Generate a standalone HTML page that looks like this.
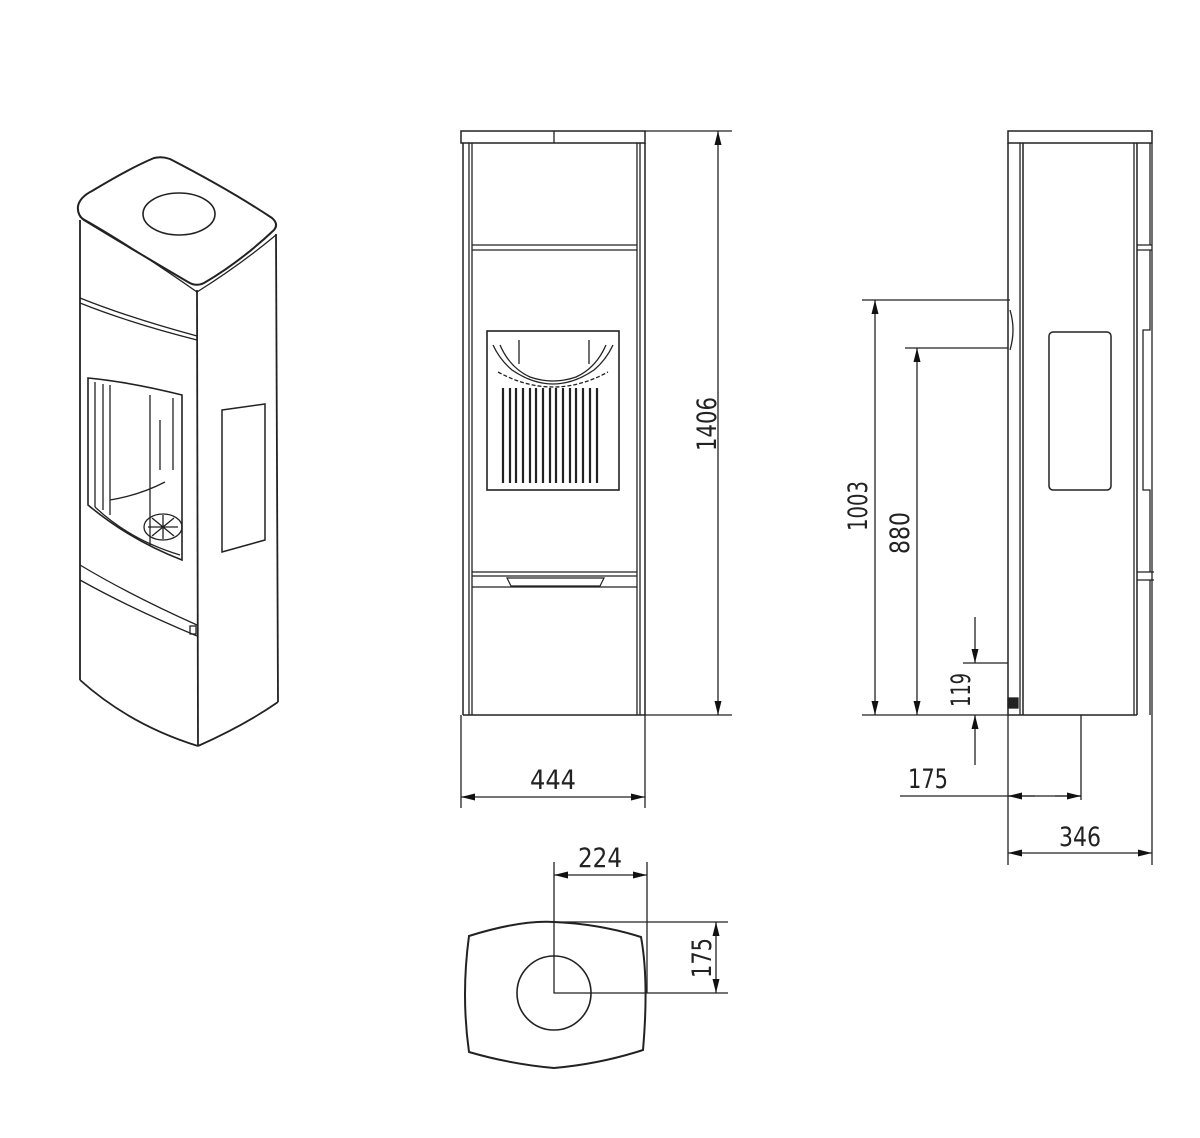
<!DOCTYPE html>
<html><head><meta charset="utf-8"><style>
html,body{margin:0;padding:0;background:#fff}
svg{display:block}
text{font-family:"DejaVu Sans Condensed","Liberation Sans",sans-serif;font-size:27px;fill:#222}
</style></head><body>
<svg width="1200" height="1138" viewBox="0 0 1200 1138" xmlns="http://www.w3.org/2000/svg">
<defs>
<marker id="a" viewBox="0 0 10 10" refX="10" refY="5" markerWidth="14" markerHeight="14" markerUnits="userSpaceOnUse" orient="auto-start-reverse"><path d="M0,2.5L10,5L0,7.5z" fill="#111"/></marker>
</defs>
<g fill="none" stroke="#222" stroke-width="1.3">
<!-- ===== Perspective ===== -->
<path d="M78,206 Q80,197 92,191 Q130,168 154,158 Q162,156 170,159 Q230,190 272,218 Q279,224 274,230 Q240,262 204,283 Q196,287 188,282 Q130,248 84,220 Q77,215 78,206 Z" stroke-width="2"/>
<path d="M80,217 Q130,245 197,292" />
<path d="M197,292 Q240,265 276,235"/>
<ellipse cx="179" cy="214" rx="36" ry="21" stroke-width="1.6"/>
<path d="M80,220 L80,680" stroke-width="1.8"/>
<path d="M197,290 L198,746" stroke-width="1.8"/>
<path d="M276,234 L278,702" stroke-width="1.8"/>
<path d="M80,680 Q130,725 198,746" stroke-width="1.8"/>
<path d="M198,746 Q245,725 278,702" stroke-width="1.8"/>
<path d="M80,298 Q130,318 197,336"/>
<path d="M80,303 Q130,323 197,340"/>
<path d="M80,565 Q130,595 197,625"/>
<path d="M80,580 Q130,608 197,636"/>
<path d="M88,378 L88,505 Q130,540 182,560 L182,395 Q130,382 88,378 Z" stroke-width="1.6"/>
<path d="M95,382 L95,507"/>
<path d="M103,384 L103,510 M110,385 L110,515"/>
<path d="M150,395 L150,545 M173,398 L173,470 M160,420 L160,470"/>
<path d="M110,500 Q140,495 165,482"/>
<path d="M95,507 Q130,540 180,555"/>
<ellipse cx="163" cy="527" rx="19" ry="13"/>
<path d="M148,527 L178,527 M163,515 L163,539 M152,518 L174,536 M152,536 L174,518"/>
<path d="M222,410 L265,404 L265,540 L222,552 Z" stroke-width="1.5"/>
<rect x="190" y="626" width="6" height="8"/>
<!-- ===== Front view ===== -->
<rect x="461" y="131" width="184" height="12" stroke-width="1.5"/>
<path d="M554,131 L554,143"/>
<path d="M463,143 L463,715 M645,143 L645,715" stroke-width="1.5"/>
<path d="M469,143 L469,715 M472,143 L472,715 M637,143 L637,715 M640,143 L640,715"/>
<path d="M472,245 L637,245 M472,250 L637,250"/>
<path d="M472,572 L637,572 M472,576 L637,576 M472,587 L637,587"/>
<path d="M507,578 L604,578 L600,586 L511,586 Z" stroke-width="1.2"/>
<path d="M463,715 L645,715" stroke-width="1.5"/>
<rect x="487" y="331" width="132" height="159" stroke-width="1.6"/>
<path d="M493,345 Q500,360 512,370 Q553,398 594,370 Q606,360 613,345"/>
<path d="M500,345 Q510,368 530,377 Q553,385 576,377 Q596,368 606,345"/>
<path d="M498,372 Q553,402 608,372" stroke-dasharray="4,2"/>
<path d="M519,340 L519,364 M589,340 L589,364"/>
<g stroke-width="2.2">
<path d="M503,388V483 M510,388V483 M516,388V483 M523,388V483 M530,388V483 M536,388V483 M543,388V483 M550,388V483 M556,388V483 M563,388V483 M570,388V483 M576,388V483 M583,388V483 M590,388V483 M597,388V483"/>
</g>
<!-- 1406 dim -->
<path d="M645,131 L732,131 M645,715 L732,715"/>
<path d="M718,131 L718,715" marker-start="url(#a)" marker-end="url(#a)"/>
<!-- 444 dim -->
<path d="M461,715 L461,808 M645,715 L645,808"/>
<path d="M461,797 L645,797" marker-start="url(#a)" marker-end="url(#a)"/>
<!-- ===== Side view ===== -->
<rect x="1008" y="131" width="144" height="12" stroke-width="1.5"/>
<path d="M1008,143 L1008,715 M1023,143 L1023,715 M1137,143 L1137,715" stroke-width="1.5"/>
<path d="M1020,143 L1020,715 M1134,143 L1134,715"/>
<path d="M1150,143 L1150,245 M1137,245 L1152,245 M1137,250 L1152,250 M1150,250 L1150,330 L1143,330 L1143,490 L1150,490 L1150,572 M1137,572 L1154,572 M1137,580 L1154,580 M1150,580 L1150,715"/>
<path d="M1008,715 L1137,715" stroke-width="1.5"/>
<rect x="1049" y="332" width="62" height="158" rx="4" stroke-width="1.5"/>
<path d="M1010,310 Q1016,330 1010,350" />
<rect x="1008" y="698" width="10" height="10" fill="#222"/>
<!-- 1003 / 880 -->
<path d="M862,300 L1010,300 M905,348 L1008,348 M862,715 L1008,715"/>
<path d="M875,300 L875,715" marker-start="url(#a)" marker-end="url(#a)"/>
<path d="M917,348 L917,715" marker-start="url(#a)" marker-end="url(#a)"/>
<!-- 119 -->
<path d="M963,663 L1008,663"/>
<path d="M975,617 L975,663" marker-end="url(#a)"/>
<path d="M975,765 L975,715" marker-end="url(#a)"/>
<!-- 175 side -->
<path d="M1008,715 L1008,865 M1081,715 L1081,800 M1152,143 L1152,865"/>
<path d="M900,796 L1081,796"/>
<path d="M1035,796 L1008,796" marker-end="url(#a)"/>
<path d="M1055,796 L1081,796" marker-end="url(#a)"/>
<path d="M1008,853 L1152,853" marker-start="url(#a)" marker-end="url(#a)"/>
<!-- ===== Top view ===== -->
<path d="M469,936 Q520,920 554,922 Q600,924 641,937 Q649,980 643,1050 Q600,1064 554,1068 Q510,1064 469,1052 Q461,995 469,936 Z" stroke-width="2"/>
<circle cx="554" cy="993" r="37" stroke-width="1.6"/>
<path d="M554,862 L554,993 L728,993 M647,862 L647,993 M554,922 L728,922"/>
<path d="M554,875 L647,875" marker-start="url(#a)" marker-end="url(#a)"/>
<path d="M716,922 L716,993" marker-start="url(#a)" marker-end="url(#a)"/>
</g>
<g>
<text transform="translate(716,424) rotate(-90)" text-anchor="middle" textLength="54" lengthAdjust="spacingAndGlyphs">1406</text>
<text x="553" y="789" text-anchor="middle" textLength="46" lengthAdjust="spacingAndGlyphs">444</text>
<text transform="translate(867,506) rotate(-90)" text-anchor="middle" textLength="50" lengthAdjust="spacingAndGlyphs">1003</text>
<text transform="translate(909,533) rotate(-90)" text-anchor="middle" textLength="42" lengthAdjust="spacingAndGlyphs">880</text>
<text transform="translate(970,690) rotate(-90)" text-anchor="middle" textLength="34" lengthAdjust="spacingAndGlyphs">119</text>
<text x="928" y="788" text-anchor="middle" textLength="40" lengthAdjust="spacingAndGlyphs">175</text>
<text x="1080" y="846" text-anchor="middle" textLength="42" lengthAdjust="spacingAndGlyphs">346</text>
<text x="600" y="867" text-anchor="middle" textLength="44" lengthAdjust="spacingAndGlyphs">224</text>
<text transform="translate(711,958) rotate(-90)" text-anchor="middle" textLength="40" lengthAdjust="spacingAndGlyphs">175</text>
</g>
</svg>
</body></html>
